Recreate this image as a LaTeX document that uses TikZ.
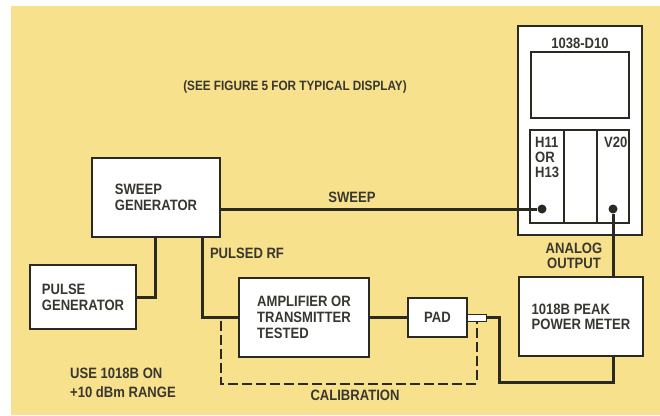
\documentclass[tikz,border=0pt]{standalone}
\usepackage{fontspec}
\setmainfont{Liberation Sans}[FakeStretch=0.87]
\usetikzlibrary{positioning}
\definecolor{paper}{HTML}{F8E18C}
\definecolor{ink}{HTML}{2B2A22}
\definecolor{labelgray}{HTML}{38372F}

\begin{document}
\begin{tikzpicture}[x=1pt,y=-1pt,
  box/.style={draw=ink,line width=1.6pt,fill=white,align=left,inner sep=0pt,
    font=\bfseries\fontsize{15}{16}\selectfont,text=labelgray},
  frame/.style={draw=ink,line width=1.3pt,fill=white,inner sep=0pt},
  txt/.style={align=left,inner sep=0pt,font=\bfseries\fontsize{15}{15}\selectfont,text=labelgray},
  wire/.style={draw=ink,line width=3pt},
  calib/.style={draw=ink,line width=2pt,dash pattern=on 10pt off 4pt},
  jack/.style={circle,fill=ink,inner sep=0pt,minimum size=9pt}
]
\useasboundingbox (0,0) rectangle (660,415);
\fill[paper] (11,6) rectangle (660,415);

\node[txt,font=\bfseries\fontsize{13.5}{15}\selectfont] (note) at (295,87) {(SEE FIGURE 5 FOR TYPICAL DISPLAY)};

\node[frame,minimum width=124pt,minimum height=209pt] (scope) at (580,130.5) {};
\node[txt] (model) at (580,43) {1038-D10};
\node[frame,minimum width=98pt,minimum height=66pt] (screen) at (580,85) {};
\node[frame,minimum width=34pt,minimum height=93pt] (hplug) at (547,176.5) {};
\node[frame,minimum width=33pt,minimum height=93pt] (midplug) at (580.5,176.5) {};
\node[frame,minimum width=32pt,minimum height=93pt] (vplug) at (613,176.5) {};
\node[txt,anchor=north west] (hname) at (535,137) {H11\\OR\\H13};
\node[txt,anchor=north west] (vname) at (604,137) {V20};
\node[jack] (hdot) at (542,209) {};
\node[jack] (vdot) at (613,209) {};

\node[box,minimum width=128pt,minimum height=79pt] (sweep) at (156,197.5) {SWEEP\\GENERATOR};
\node[box,minimum width=106pt,minimum height=64pt] (pulse) at (83,297) {PULSE\\GENERATOR};
\node[box,minimum width=130pt,minimum height=79pt] (amp) at (304,317.5) {AMPLIFIER OR\\TRANSMITTER\\TESTED};
\node[box,minimum width=59pt,minimum height=39pt,align=center] (pad) at (437.5,317.5) {PAD};
\node[frame,line width=1pt,minimum width=19pt,minimum height=7pt] (stub) at (476.5,317.5) {};
\node[box,font=\bfseries\fontsize{15}{15}\selectfont,minimum width=124pt,minimum height=79pt] (meter) at (581,316.5) {1018B PEAK\\POWER METER};

\draw[wire] (sweep.east |- hdot) -- (hdot);
\draw[wire] (vdot) -- (vdot |- meter.north);
\draw[wire] ([xshift=-1pt]sweep.south) |- (pulse.east);
\draw[wire] ([xshift=46pt]sweep.south) |- (amp.west);
\draw[wire] (amp.east) -- (pad.west);
\draw[wire] (stub.east) -| ([shift={(13pt,-64.5pt)}]stub.east) -| (vdot |- meter.south);
\draw[calib] ([xshift=-17pt,yshift=-3pt]amp.west) |- ([yshift=-62pt]stub.south) -- (stub.south);

\node[txt] (sweeplbl) at (352,197) {SWEEP};
\node[txt] (rflbl) at (247,253) {PULSED RF};
\node[txt,align=center] (outlbl) at (574,255.5) {ANALOG\\OUTPUT};
\node[txt] (callbl) at (355,395) {CALIBRATION};
\node[txt,font=\bfseries\fontsize{15}{19}\selectfont] (rangelbl) at (123,382.5) {USE 1018B ON\\+10 dBm RANGE};
\end{tikzpicture}
\end{document}
